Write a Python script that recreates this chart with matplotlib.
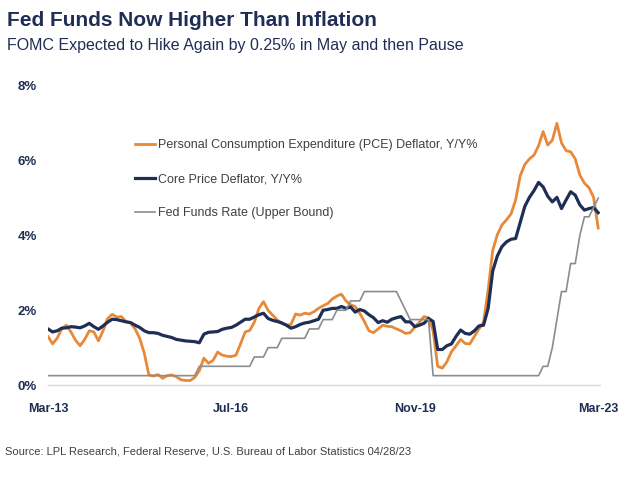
import numpy as np
import matplotlib
matplotlib.use('Agg')
import matplotlib.pyplot as plt

plt.rcParams['font.family'] = ['Liberation Sans', 'DejaVu Sans']

# 月度数据 Mar-13 ~ Mar-23
months = np.arange(121)
x_ticks = [0, 40, 80, 120]
x_labels = ['Mar-13', 'Jul-16', 'Nov-19', 'Mar-23']
y_ticks = [0, 2, 4, 6, 8]
y_labels = ['0%', '2%', '4%', '6%', '8%']

# PCE 平减指数 同比
pce = [1.30, 1.10, 1.25, 1.50, 1.60, 1.42, 1.20, 1.05, 1.22, 1.45,
       1.42, 1.18, 1.45, 1.78, 1.89, 1.82, 1.83, 1.70, 1.66, 1.50,
       1.25, 0.85, 0.27, 0.24, 0.28, 0.18, 0.25, 0.27, 0.22, 0.14,
       0.12, 0.12, 0.20, 0.38, 0.72, 0.58, 0.66, 0.88, 0.80, 0.77,
       0.76, 0.80, 1.10, 1.42, 1.46, 1.68, 2.05, 2.23, 2.00, 1.87,
       1.74, 1.65, 1.60, 1.62, 1.90, 1.87, 1.92, 1.90, 1.96, 2.05,
       2.12, 2.18, 2.30, 2.38, 2.43, 2.25, 2.15, 2.10, 1.92, 1.70,
       1.45, 1.40, 1.50, 1.60, 1.57, 1.56, 1.50, 1.45, 1.38, 1.40,
       1.55, 1.68, 1.83, 1.80, 1.45, 0.50, 0.45, 0.62, 0.89, 1.05,
       1.22, 1.11, 1.10, 1.30, 1.50, 1.68, 2.55, 3.60, 4.02, 4.28,
       4.42, 4.58, 4.95, 5.60, 5.90, 6.05, 6.15, 6.40, 6.78, 6.42,
       6.55, 7.00, 6.48, 6.27, 6.24, 6.05, 5.62, 5.40, 5.28, 5.02,
       4.20]

# 核心 PCE 同比
core = [1.50, 1.42, 1.45, 1.52, 1.53, 1.56, 1.55, 1.53, 1.58, 1.65,
        1.56, 1.49, 1.58, 1.68, 1.76, 1.75, 1.72, 1.69, 1.67, 1.60,
        1.54, 1.45, 1.40, 1.40, 1.38, 1.33, 1.30, 1.27, 1.22, 1.20,
        1.18, 1.17, 1.16, 1.13, 1.36, 1.41, 1.42, 1.43, 1.49, 1.52,
        1.54, 1.60, 1.68, 1.76, 1.76, 1.82, 1.88, 1.92, 1.78, 1.73,
        1.70, 1.66, 1.60, 1.52, 1.56, 1.62, 1.66, 1.68, 1.72, 1.76,
        2.00, 2.02, 2.05, 2.05, 2.10, 2.05, 2.09, 1.95, 2.02, 1.98,
        1.88, 1.80, 1.67, 1.72, 1.68, 1.76, 1.80, 1.83, 1.69, 1.69,
        1.56, 1.60, 1.65, 1.78, 1.70, 0.95, 0.95, 1.05, 1.10, 1.30,
        1.47, 1.38, 1.36, 1.45, 1.58, 1.60, 2.05, 3.05, 3.45, 3.70,
        3.83, 3.90, 3.92, 4.35, 4.78, 5.02, 5.20, 5.42, 5.30, 5.05,
        4.90, 5.02, 4.72, 4.95, 5.17, 5.08, 4.82, 4.68, 4.72, 4.75,
        4.61]

# 联邦基金利率上限
fed = ([0.25] * 33 + [0.50] * 12 + [0.75] * 3 + [1.00] * 3 + [1.25] * 6 +
       [1.50] * 3 + [1.75] * 3 + [2.00] * 3 + [2.25] * 3 + [2.50] * 8 +
       [2.25, 2.00] + [1.75] * 5 + [0.25] * 24 + [0.50, 0.50, 1.00, 1.75,
       2.50, 2.50, 3.25, 3.25, 4.00, 4.50, 4.50, 4.75, 5.00])

navy = '#1f2e55'
orange = '#e8893a'
grey = '#8c8c8c'

fig = plt.figure(figsize=(6.3, 4.97), dpi=100)
ax = fig.add_axes([48 / 630, 1 - 385 / 497, 552 / 630, 299 / 497])

ax.plot(months, pce, color=orange, lw=2.0,
        label='Personal Consumption Expenditure (PCE) Deflator, Y/Y%')
ax.plot(months, core, color=navy, lw=2.3, label='Core Price Deflator, Y/Y%')
ax.plot(months, fed, color=grey, lw=1.2, label='Fed Funds Rate (Upper Bound)')

ax.set_xlim(0, 120.4)
ax.set_ylim(0, 8)
for s in ['top', 'right', 'left']:
    ax.spines[s].set_visible(False)
ax.spines['bottom'].set_color('#d9d9d9')
ax.spines['bottom'].set_linewidth(1)

ax.set_xticks(x_ticks)
ax.set_xticklabels(x_labels, fontsize=9, fontweight='bold', color=navy)
ax.set_yticks(y_ticks)
ax.set_yticklabels(y_labels, fontsize=9.5, fontweight='bold', color=navy)
ax.tick_params(axis='x', length=0, pad=13)
ax.tick_params(axis='y', length=0, pad=8)

leg = ax.legend(loc='upper left', bbox_to_anchor=(124 / 630, 1 - 128 / 497),
                bbox_transform=fig.transFigure, frameon=False, fontsize=9,
                handlelength=1.6, handletextpad=0.25, labelspacing=1.75)
for t in leg.get_texts():
    t.set_color('#404040')

fig.text(7 / 630, 1 - 26 / 497, 'Fed Funds Now Higher Than Inflation',
         fontsize=15, fontweight='bold', color=navy, va='baseline')
fig.text(7 / 630, 1 - 50 / 497,
         'FOMC Expected to Hike Again by 0.25% in May and then Pause',
         fontsize=11.5, color=navy, va='baseline')
fig.text(5 / 630, 1 - 452 / 497,
         'Source: LPL Research, Federal Reserve, U.S. Bureau of Labor Statistics 04/28/23',
         fontsize=8, color='#404040', va='center')

fig.savefig('out.png', dpi=100)
